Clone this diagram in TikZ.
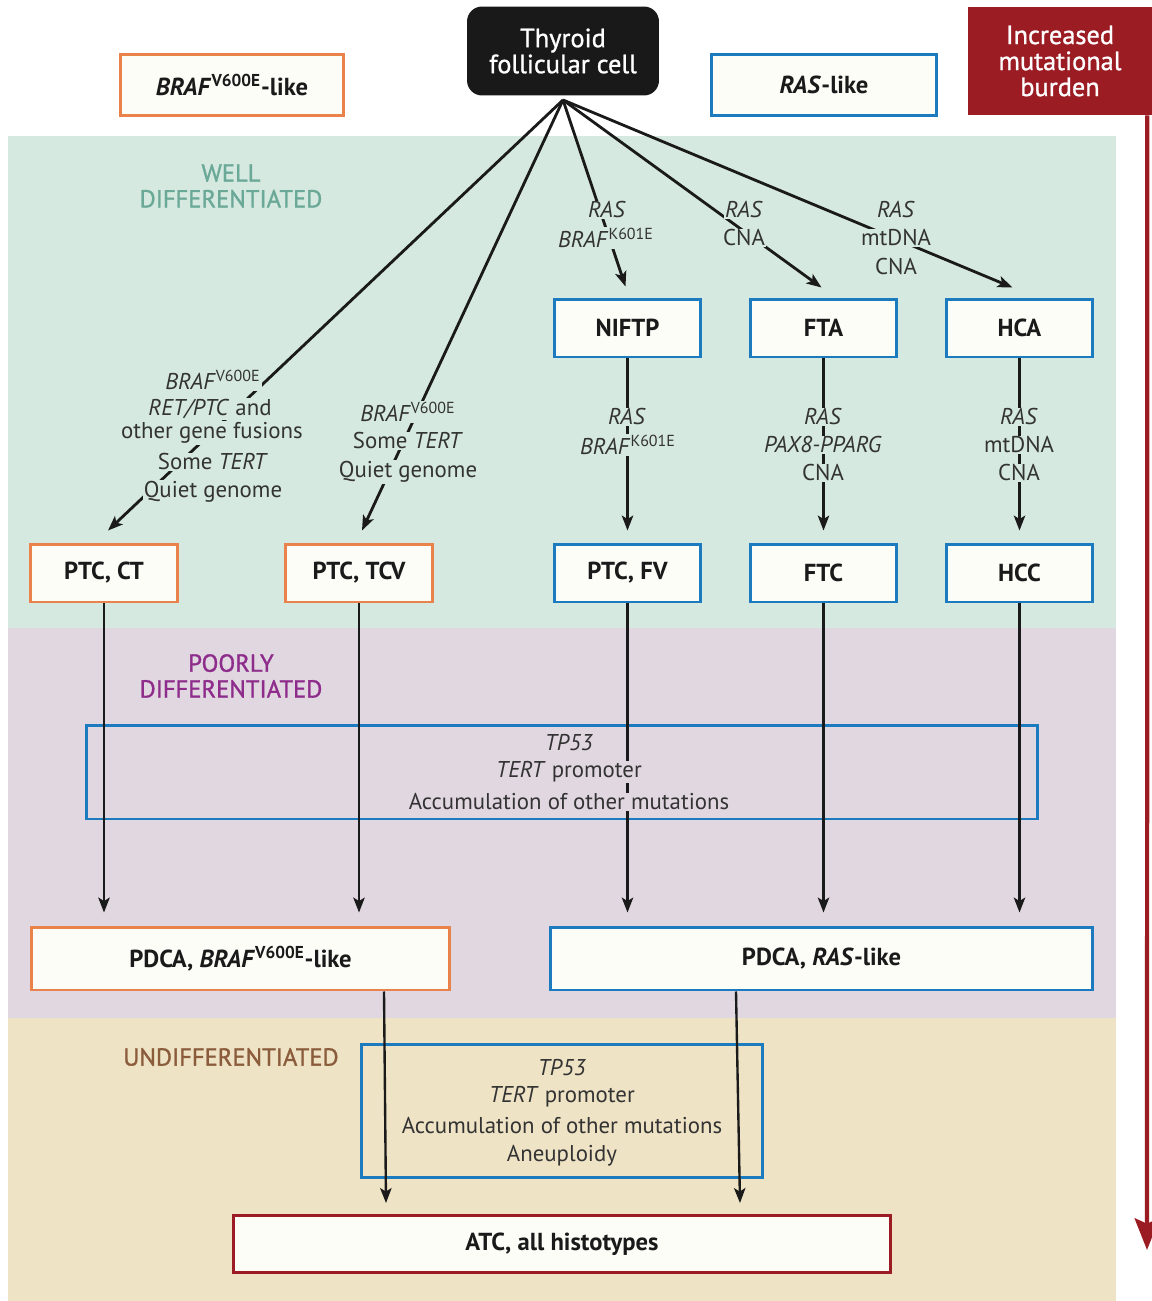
\documentclass[tikz,border=0pt]{standalone}
\usepackage{fontspec}
\setmainfont{PT Sans}
\usetikzlibrary{arrows.meta,calc}
\definecolor{bandG}{HTML}{D5E9E0}
\definecolor{bandP}{HTML}{E1D7E1}
\definecolor{bandT}{HTML}{EFE3C5}
\definecolor{orangeC}{HTML}{E9834B}
\definecolor{blueC}{HTML}{1B7BBE}
\definecolor{redC}{HTML}{9B1C23}
\definecolor{tealT}{HTML}{6AA897}
\definecolor{purpT}{HTML}{8E2C8B}
\definecolor{brownT}{HTML}{8A5C3C}
\definecolor{labelC}{HTML}{333333}
\definecolor{boxfill}{HTML}{FDFDF8}
\definecolor{lineC}{HTML}{1A1A1A}
\begin{document}
\begin{tikzpicture}[x=0.02cm,y=-0.02cm,
  box/.style={draw, line width=1.7pt, fill=boxfill, inner sep=0pt, text=lineC,
    font=\fontsize{14}{16}\selectfont\bfseries},
  obox/.style={box, draw=orangeC},
  bbox/.style={box, draw=blueC},
  small/.style={minimum width=2.93cm, minimum height=1.16cm},
  frame/.style={draw=blueC, line width=1.7pt, inner sep=0pt},
  tip/.style={-{Stealth[length=8.5pt,width=6.5pt,inset=2pt]}},
  fan/.style={tip, line width=1.6pt, draw=lineC},
  varr/.style={tip, line width=1.35pt, draw=lineC},
  lbl/.style={inner sep=0.6pt, text=labelC, font=\fontsize{13}{15}\selectfont},
  lblg/.style={lbl, fill=bandG},
  lblp/.style={lbl, fill=bandP},
  lblt/.style={lbl},
  phase/.style={align=center, font=\fontsize{14}{14.7}\selectfont\addfontfeature{FakeBold=1.2}}
]
\useasboundingbox (0,0) rectangle (1152,1301);
% bands
\fill[bandG] (8,136) rectangle (1116,628);
\fill[bandP] (8,628) rectangle (1116,1018);
\fill[bandT] (8,1018) rectangle (1116,1301);

% phase labels
\node[phase, text=tealT] (wd) at (231,186) {WELL\\DIFFERENTIATED};
\node[phase, text=purpT] (pd) at (231,676) {POORLY\\DIFFERENTIATED};
\node[phase, text=brownT] (ud) at (231,1057) {UNDIFFERENTIATED};

% top nodes
\node[box, draw=none, fill=black!90, text=white, rounded corners=0.3cm,
  minimum width=3.84cm, minimum height=1.78cm, align=center,
  font=\fontsize{15}{14.8}\selectfont\addfontfeature{FakeBold=1}] (thy) at (563,51) {Thyroid\\follicular cell};
\node[obox, minimum width=4.48cm, minimum height=1.22cm] (brafl) at (232,85)
  {\textit{BRAF}\textsuperscript{V600E}-like};
\node[bbox, minimum width=4.5cm, minimum height=1.22cm] (rasl) at (824,85)
  {\textit{RAS}-like};
\node[draw=none, fill=redC, text=white, inner sep=0pt, align=center,
  minimum width=3.68cm, minimum height=2.16cm,
  font=\fontsize{15}{14.8}\selectfont\addfontfeature{FakeBold=1}] (burden) at (1060,61) {Increased\\mutational\\burden};
\coordinate (bend) at (1147,1250);
\draw[redC, line width=2.4pt, -{Stealth[length=18pt,width=14pt,inset=3pt]}]
  ($(burden.south east)+(-5,0)$) -- (bend);

% frames
\node[frame, minimum width=19.04cm, minimum height=1.88cm] (poor) at (562,772) {};
\node[frame, minimum width=8.04cm, minimum height=2.66cm] (und) at (562,1111) {};

% well differentiated boxes
\node[bbox, small] (niftp) at (627.5,328) {NIFTP};
\node[bbox, small] (fta) at (823.5,328) {FTA};
\node[bbox, small] (hca) at (1019.5,328) {HCA};
\node[obox, small] (ptcct) at (104,573) {PTC, CT};
\node[obox, small] (ptctcv) at (359,573) {PTC, TCV};
\node[bbox, small] (ptcfv) at (627.5,573) {PTC, FV};
\node[bbox, small] (ftc) at (823.5,573) {FTC};
\node[bbox, small] (hcc) at (1019.5,573) {HCC};

% poorly / undifferentiated boxes
\node[obox, minimum width=8.38cm, minimum height=1.26cm] (pdcab) at (240.5,958.5)
  {PDCA, \textit{BRAF}\textsuperscript{V600E}-like};
\node[bbox, minimum width=10.86cm, minimum height=1.26cm] (pdcar) at (821.5,958.5)
  {PDCA, \textit{RAS}-like};
\node[box, draw=redC, minimum width=13.16cm, minimum height=1.14cm] (atc) at (562,1244)
  {ATC, all histotypes};

% fan from the cell
\coordinate (src) at (563,100);
\draw[fan] (src) -- ($(ptcct.north)+(4,-12)$);
\draw[fan] (src) -- ($(ptctcv.north)+(3,-12)$);
\draw[fan] (src) -- ($(niftp.north)+(-2,-11)$);
\draw[fan] (src) -- ($(fta.north)+(-2,-10)$);
\draw[fan] (src) -- ($(hca.north)+(-7,-10)$);

% vertical arrows in well differentiated
\draw[varr] (niftp.south) -- ($(ptcfv.north)+(0,-12)$);
\draw[varr] (fta.south) -- ($(ftc.north)+(0,-12)$);
\draw[varr] (hca.south) -- ($(hcc.north)+(0,-12)$);

% down to PDCA
\draw[varr] (ptcct.south) -- ($(ptcct.south |- pdcab.north)+(0,-13)$);
\draw[varr] (ptctcv.south) -- ($(ptctcv.south |- pdcab.north)+(0,-13)$);
\draw[varr] (ptcfv.south) -- ($(ptcfv.south |- pdcar.north)+(0,-13)$);
\draw[varr] (ftc.south) -- ($(ftc.south |- pdcar.north)+(0,-13)$);
\draw[varr] (hcc.south) -- ($(hcc.south |- pdcar.north)+(0,-13)$);

% down to ATC
\draw[varr] ($(pdcab.south)+(143.5,0)$) -- ($(atc.north)+(-176,-11)$);
\draw[varr] ($(pdcar.south)+(-85.5,0)$) -- ($(atc.north)+(178,-11)$);

% fan labels
\node[lblg] (la1) at (213,380) {\textit{BRAF}\textsuperscript{V600E}};
\node[lblg] (la2) at (210,409) {\textit{RET/PTC} and};
\node[lblg] (la3) at (212,433) {other gene fusions};
\node[lblg] (la4) at (213,462) {Some \textit{TERT}};
\node[lblg] (la5) at (213,492) {Quiet genome};

\node[lblg] (lb1) at (408,412) {\textit{BRAF}\textsuperscript{V600E}};
\node[lblg] (lb2) at (408,441) {Some \textit{TERT}};
\node[lblg] (lb3) at (408,472) {Quiet genome};

\node[lblg] (lc1) at (607,210) {\textit{RAS}};
\node[lblg] (lc2) at (606,238) {\textit{BRAF}\textsuperscript{K601E}};
\node[lblg] (ld1) at (744,210) {\textit{RAS}};
\node[lblg] (ld2) at (744,238) {CNA};
\node[lblg] (le1) at (896,210) {\textit{RAS}};
\node[lblg] (le2) at (896,238) {mtDNA};
\node[lblg] (le3) at (896,267) {CNA};

% vertical labels
\node[lblg] (lf1) at (627,417) {\textit{RAS}};
\node[lblg] (lf2) at (628,445) {\textit{BRAF}\textsuperscript{K601E}};
\node[lblg] (lg1) at (823,417) {\textit{RAS}};
\node[lblg] (lg2) at (823,445) {\textit{PAX8-PPARG}};
\node[lblg] (lg3) at (823,473) {CNA};
\node[lblg] (lh1) at (1019,417) {\textit{RAS}};
\node[lblg] (lh2) at (1019,445) {mtDNA};
\node[lblg] (lh3) at (1019,473) {CNA};

% poorly box labels
\node[lblp] (lp1) at (569,743) {\textit{TP53}};
\node[lblp] (lp2) at (569,772) {\textit{TERT} promoter};
\node[lblp] (lp3) at (569,802) {Accumulation of other mutations};

% undifferentiated box labels
\node[lblt] (lu1) at (562,1068) {\textit{TP53}};
\node[lblt] (lu2) at (562,1097) {\textit{TERT} promoter};
\node[lblt] (lu3) at (562,1126) {Accumulation of other mutations};
\node[lblt] (lu4) at (562,1156) {Aneuploidy};
\end{tikzpicture}
\end{document}
